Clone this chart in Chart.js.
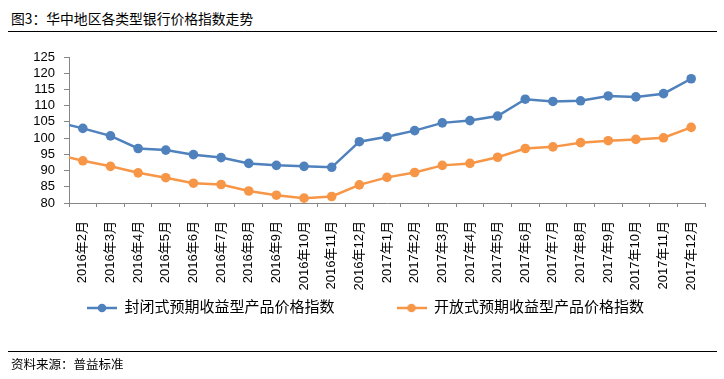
<!DOCTYPE html>
<html>
<head>
<meta charset="utf-8">
<script src="https://cdn.jsdelivr.net/npm/chart.js@4.4.1/dist/chart.umd.min.js"></script>
<style>
html, body { margin: 0; padding: 0; background: #fff; }
#wrap { position: relative; width: 724px; height: 379px; overflow: hidden; font-family: "Noto Sans CJK SC", sans-serif; color: #000; }
#title { position: absolute; left: 11px; top: 7px; font-size: 13.8px; line-height: 22px; white-space: nowrap; }
#source { position: absolute; left: 11px; top: 355px; font-size: 12.5px; line-height: 17px; white-space: nowrap; }
.rule { position: absolute; left: 8px; width: 709px; height: 1px; background: #000; }
#chart { position: absolute; left: 0; top: 0; }
</style>
</head>
<body>
<div id="wrap">
  <div id="title">图3：华中地区各类型银行价格指数走势</div>
  <div class="rule" style="top:31px"></div>
  <canvas id="chart" width="724" height="379"></canvas>
  <div class="rule" style="top:351px"></div>
  <div id="source">资料来源：普益标准</div>
</div>
<script>
// ==========================================
// DATA
// ==========================================

// first month sits just left of the axis (only its line segment shows)
const months = [
    '2016年1月', '2016年2月', '2016年3月', '2016年4月', '2016年5月', '2016年6月',
    '2016年7月', '2016年8月', '2016年9月', '2016年10月', '2016年11月', '2016年12月',
    '2017年1月', '2017年2月', '2017年3月', '2017年4月', '2017年5月', '2017年6月',
    '2017年7月', '2017年8月', '2017年9月', '2017年10月', '2017年11月', '2017年12月'
];

const closedIndex = [
    105.1, 103.0, 100.7, 96.8, 96.3, 94.9, 94.0, 92.2, 91.6, 91.3, 91.0, 98.9,
    100.4, 102.3, 104.7, 105.4, 106.8, 112.0, 111.3, 111.5, 113.0, 112.7, 113.7, 118.3
];

const openIndex = [
    95.1, 93.0, 91.3, 89.3, 87.8, 86.1, 85.7, 83.7, 82.4, 81.5, 82.0, 85.6,
    87.9, 89.4, 91.6, 92.2, 94.1, 96.8, 97.3, 98.6, 99.2, 99.6, 100.1, 103.3
];

const yTicks = [80, 85, 90, 95, 100, 105, 110, 115, 120, 125];

const seriesNames = ['封闭式预期收益型产品价格指数', '开放式预期收益型产品价格指数'];

const BLUE = '#4F81BD';
const ORANGE = '#F79646';
const AXIS = '#868686';
const FONT = '"Liberation Sans", "Noto Sans CJK SC", sans-serif';

const LEGEND_GAP = 62;

// legend icon: short line with a dot in the middle
function legendIcon(color) {
    const c = document.createElement('canvas');
    c.width = 30;
    c.height = 12;
    const g = c.getContext('2d');
    g.strokeStyle = color;
    g.lineWidth = 2.5;
    g.beginPath();
    g.moveTo(0, 6);
    g.lineTo(30, 6);
    g.stroke();
    g.fillStyle = color;
    g.beginPath();
    g.arc(15, 6, 4.3, 0, Math.PI * 2);
    g.fill();
    return c;
}

const icons = [legendIcon(BLUE), legendIcon(ORANGE)];

// the wide horizontal gap between legend items also pads it vertically,
// so pull the legend back up under the axis labels (and nudge it right)
const legendLift = {
    id: 'legendLift',
    afterLayout(chart) {
        const lg = chart.legend;
        const lift = lg.top + LEGEND_GAP + 7.5 - 308;
        lg.top -= lift;
        lg.bottom -= lift;
        lg.left += 13;
        lg.right += 13;
    }
};

function series(label, data, color) {
    return {
        label: label,
        data: data,
        borderColor: color,
        backgroundColor: color,
        borderWidth: 2.5,
        tension: 0,
        pointRadius: ctx => ctx.dataIndex === 0 ? 0 : 4.8,
        pointHoverRadius: 4.8,
        pointBorderWidth: 0,
        clip: 0
    };
}

new Chart(document.getElementById('chart'), {

    type: 'line',

    data: {
        labels: months,
        datasets: [
            series(seriesNames[0], closedIndex, BLUE),
            series(seriesNames[1], openIndex, ORANGE)
        ]
    },

    plugins: [legendLift],

    options: {

        responsive: false,
        animation: false,

        layout: {
            padding: { left: 0, right: 19, top: 57, bottom: 0 }
        },

        plugins: {
            tooltip: { enabled: false },
            legend: {
                position: 'bottom',
                labels: {
                    usePointStyle: true,
                    pointStyleWidth: 30,
                    padding: LEGEND_GAP,
                    color: '#000',
                    font: { family: FONT, size: 15 },
                    generateLabels(chart) {
                        const items = Chart.defaults.plugins.legend.labels.generateLabels(chart);
                        items.forEach((it, i) => { it.pointStyle = icons[i]; });
                        return items;
                    }
                }
            }
        },

        scales: {

            x: {
                min: months[1],
                offset: true,
                grid: {
                    offset: true,
                    drawOnChartArea: false,
                    tickLength: 4,
                    color: AXIS
                },
                border: { color: AXIS },
                ticks: {
                    autoSkip: false,
                    maxRotation: 90,
                    minRotation: 90,
                    padding: 14,
                    color: '#000',
                    font: { family: FONT, size: 13 }
                },
                afterFit(scale) {
                    scale.height = 89;
                }
            },

            y: {
                min: yTicks[0],
                max: yTicks[yTicks.length - 1],
                grid: {
                    drawOnChartArea: false,
                    tickLength: 5,
                    color: AXIS
                },
                border: { color: AXIS },
                ticks: {
                    stepSize: yTicks[1] - yTicks[0],
                    autoSkip: false,
                    padding: 9,
                    color: '#000',
                    font: { family: FONT, size: 13 }
                },
                afterFit(scale) {
                    scale.width = 69;
                }
            }
        }
    }
});
</script>
</body>
</html>
